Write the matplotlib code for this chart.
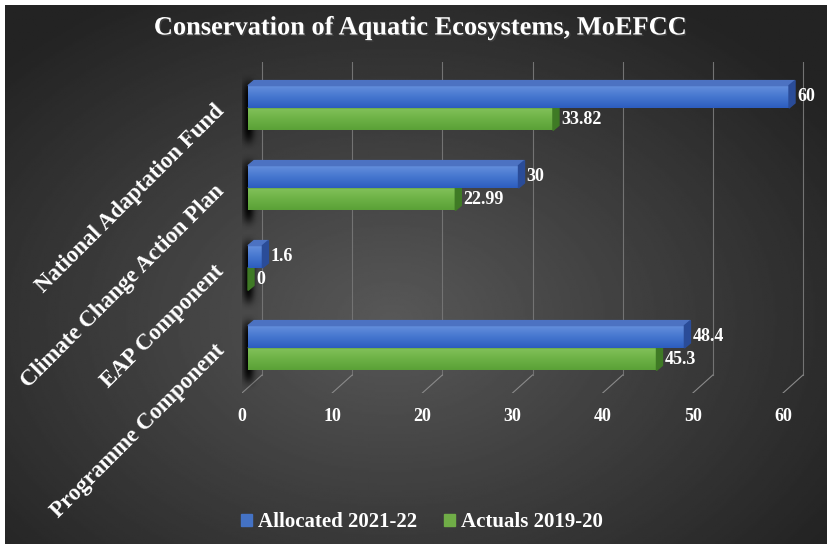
import numpy as np
import matplotlib.pyplot as plt
import matplotlib.patheffects as pe
from matplotlib.colors import LinearSegmentedColormap
from matplotlib.patches import Polygon, Rectangle

categories = ['Programme Component', 'EAP Component',
              'Climate Change Action Plan', 'National Adaptation Fund']
allocated = [48.4, 1.6, 30, 60]
actuals = [45.3, 0, 22.99, 33.82]
series_names = ['Allocated 2021-22', 'Actuals 2019-20']
x_ticks = [0, 10, 20, 30, 40, 50, 60]

W, H = 829, 544
PX = 9.017      # pixels per unit on the value axis
ROW = 80        # pixels between categories
floor_y, top_y = 393, 62
XMAX = 66

serif = 'Liberation Serif'
blue_cm = LinearSegmentedColormap.from_list('b', ['#2d5dbf', '#4677cf', '#6690dd'])
green_cm = LinearSegmentedColormap.from_list('g', ['#5aa137', '#6db246', '#84c25c'])

fig = plt.figure(figsize=(W / 100, H / 100), dpi=100)
fig.patch.set_facecolor('white')

# dark panel with radial shading
bg = fig.add_axes([5 / W, -0.01, (W - 7) / W, (H - 5) / H + 0.01])
yy, xx = np.mgrid[0:1:300j, 0:1:450j]
r = np.sqrt(((xx - 0.47) / 0.75) ** 2 + ((yy - 0.58) / 0.8) ** 2)
shade = np.clip(0.345 - 0.24 * r, 0.14, 0.35)
bg.imshow(shade, cmap='gray', vmin=0, vmax=1, extent=[0, 1, 0, 1], aspect='auto')
bg.axis('off')


def rect(left_px):
    return [left_px / W, 1 - floor_y / H, XMAX * PX / W, (floor_y - top_y) / H]


ylim = (-(floor_y - 348) / ROW, (348 - top_y) / ROW)

# back wall grid and floor lines
ax = fig.add_axes(rect(242))
ax.set_facecolor('none')
gx, gy = 20 / PX, 18 / ROW
for v in x_ticks:
    ax.plot([v + gx, v + gx], [ylim[0] + gy, ylim[1]], color='#737373', lw=0.8, zorder=1)
    ax.plot([v, v + gx], [ylim[0], ylim[0] + gy], color='#8a8a8a', lw=0.8, zorder=1)

# soft shadows cast on the left wall
sy, sx = np.mgrid[-1:1:80j, 0:1:40j]
for i in range(len(categories)):
    a = np.exp(-((sx - 0.32) / 0.3) ** 2) * np.exp(-(np.abs(sy) / 0.8) ** 6)
    img = np.zeros((80, 40, 4))
    img[..., 3] = 0.95 * a
    ax.imshow(img, extent=[0, 2.2, i - 0.52, i + 0.42], aspect='auto',
              interpolation='bilinear', zorder=2)

ax.set_xlim(0, XMAX)
ax.set_ylim(*ylim)
for s in ax.spines.values():
    s.set_visible(False)
ax.set_xticks(x_ticks)
ax.set_xticklabels([str(v) for v in x_ticks], family=serif, weight='bold',
                   size=13, color='white')
ax.set_yticks(range(len(categories)))
ax.set_yticklabels(categories, family=serif, weight='bold', size=16.5, color='white',
                   rotation=45, ha='right', va='center', rotation_mode='anchor')
ax.tick_params(axis='x', length=0, pad=11)
ax.tick_params(axis='y', length=0, pad=15)

# bars, shifted slightly into depth
axb = fig.add_axes(rect(248))
axb.set_facecolor('none')
axb.axis('off')
h = 0.28
dx, dy = 6 / PX, 5 / ROW
grad = np.linspace(0, 1, 50).reshape(-1, 1)[::-1]


def draw_bar(y0, v, cmap, top_c, side_c):
    axb.barh(y0, v, height=h, align='edge', color=cmap(0.5), clip_on=False, zorder=3)
    if v > 0:
        axb.imshow(grad, cmap=cmap, extent=[0, v, y0, y0 + h], aspect='auto',
                   interpolation='bicubic', zorder=4)
    axb.add_patch(Polygon([(0, y0 + h), (v, y0 + h), (v + dx, y0 + h + dy), (dx, y0 + h + dy)],
                          closed=True, color=top_c, zorder=4, clip_on=False))
    axb.add_patch(Polygon([(v, y0), (v, y0 + h), (v + dx, y0 + h + dy), (v + dx, y0 + dy)],
                          closed=True, color=side_c, zorder=4, clip_on=False))


for i in range(len(categories)):
    draw_bar(i - h, actuals[i], green_cm, '#69a845', '#3f7a25')
    draw_bar(i, allocated[i], blue_cm, '#4c72c2', '#2a4c98')

for i in range(len(categories)):
    for y0, v in [(i, allocated[i]), (i - h, actuals[i])]:
        axb.annotate(f'{v:g}', (v + dx, y0 + h / 2), xytext=(1.5, 0), textcoords='offset points',
                     va='center', ha='left', family=serif, weight='bold', size=13,
                     color='white', annotation_clip=False, zorder=6)

axb.set_xlim(0, XMAX)
axb.set_ylim(*ylim)

fig.text(420 / W, 1 - 28 / H, 'Conservation of Aquatic Ecosystems, MoEFCC',
         ha='center', va='center', family=serif, weight='bold', size=19, color='white',
         path_effects=[pe.withSimplePatchShadow(offset=(1, -1), alpha=0.6)])

handles = [Rectangle((0, 0), 1, 1, color='#4472c4'), Rectangle((0, 0), 1, 1, color='#70ad47')]
fig.legend(handles, series_names, loc='center', bbox_to_anchor=(422 / W, 1 - 522 / H),
           ncol=2, frameon=False, prop=dict(family=serif, weight='bold', size=15),
           labelcolor='white', handlelength=0.5, handleheight=0.5,
           handletextpad=0.3, columnspacing=1.3)

fig.savefig('out.png', dpi=100, facecolor='white')
